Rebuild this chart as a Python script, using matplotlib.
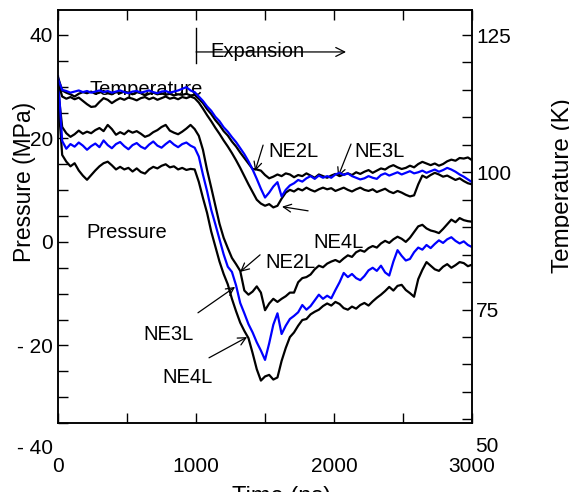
import numpy as np
import matplotlib
matplotlib.use('Agg')
import matplotlib.pyplot as plt
from matplotlib.ticker import MultipleLocator

plt.rcParams['font.family'] = ['Liberation Sans', 'DejaVu Sans']

# time axis, one sample every 30 ns
time_ns = np.arange(0, 3001, 30)

# temperature (K), right axis
temp_ne2l = [117.3, 114.9, 114.5, 114.2, 113.8, 114.3, 114.6, 114.4, 114.7, 114.3,
             114.5, 114.8, 114.4, 114.2, 114.6, 114.4, 114.7, 114.5, 114.2, 114.6,
             114.4, 114.0, 114.3, 114.5, 114.2, 114.4, 114.1, 114.3, 114.0, 114.2,
             114.1, 114.3, 114.0, 114.1, 113.4, 112.6, 111.5, 110.6, 109.5, 108.6,
             107.5, 106.7, 105.6, 104.7, 103.6, 102.6, 101.6, 100.6, 100.5, 100.3,
             99.5, 98.9, 99.2, 99.6, 99.3, 99.8, 99.6, 99.1, 99.5, 99.3,
             99.8, 99.4, 99.0, 99.6, 99.3, 99.0, 99.4, 99.7, 99.3, 99.6,
             99.8, 99.5, 100.0, 99.7, 100.1, 100.4, 99.9, 100.3, 100.7, 100.5,
             101.0, 101.3, 100.9, 100.6, 100.8, 101.2, 100.9, 101.5, 101.9, 101.6,
             101.3, 101.6, 101.2, 101.5, 102.0, 102.3, 102.1, 102.6, 102.5, 102.7,
             102.2]
temp_ne3l = [117.0, 115.0, 114.8, 114.5, 114.7, 114.9, 114.6, 114.8, 114.5, 114.7,
             114.9, 114.6, 114.8, 114.5, 114.7, 114.9, 114.6, 114.4, 114.7, 114.8,
             114.5, 114.7, 114.9, 114.6, 114.4, 114.7, 114.8, 114.5, 114.7, 114.9,
             115.2, 115.5, 114.9, 114.6, 113.8, 113.0, 112.0, 111.2, 110.1, 109.3,
             108.2, 107.4, 106.4, 105.5, 104.4, 103.3, 102.0, 100.5, 98.8, 97.0,
             95.4, 96.3, 97.4, 98.2, 95.6, 96.8, 97.6, 98.0, 98.6, 98.3,
             98.9, 99.3, 98.8, 99.4, 99.0, 99.3, 99.0, 99.6, 99.9, 99.5,
             99.8, 99.3, 99.0, 98.7, 98.9, 99.3, 99.0, 98.8, 99.5, 99.8,
             99.4, 99.7, 100.0, 99.6, 99.9, 100.2, 99.8, 100.0, 100.3, 99.9,
             100.2, 100.5, 100.1, 100.4, 100.8, 100.5, 100.1, 99.6, 99.2, 98.7,
             98.2]
temp_ne4l = [116.5, 113.8, 113.4, 113.7, 113.3, 113.6, 113.0, 112.4, 111.9, 112.0,
             112.8, 113.5, 113.2, 112.6, 113.1, 113.5, 113.2, 113.6, 113.4, 113.1,
             113.5, 113.7, 113.3, 113.6, 113.2, 113.5, 113.8, 113.4, 113.6, 113.3,
             113.7, 113.5, 113.8, 113.5, 112.7, 111.6, 110.4, 109.3, 108.1, 107.0,
             105.8, 104.7, 103.5, 102.2, 100.8, 99.3, 97.8, 96.4, 95.0, 94.3,
             93.9, 94.2, 93.6, 93.9, 95.2, 96.3, 96.8, 96.5, 97.0, 96.7,
             97.2, 96.8, 96.5, 96.9, 97.2, 96.9, 97.1, 96.6, 96.9, 97.2,
             96.8, 96.5, 96.9, 97.2, 96.8, 96.6, 96.9, 96.4, 96.7, 97.0,
             96.5, 96.2, 96.6, 96.3, 95.9, 95.6, 95.8, 97.8, 99.4, 99.0,
             99.5, 99.9, 99.6, 99.2, 99.4, 99.0, 98.6, 98.9, 98.4, 98.0,
             97.8]

# pressure (MPa), left axis
pres_ne2l = [29.5, 22.2, 21.0, 20.3, 20.8, 21.5, 20.9, 21.3, 21.0, 21.6,
             22.0, 21.4, 22.6, 21.8, 20.7, 21.2, 20.8, 21.5, 21.1, 21.4,
             20.9, 20.3, 20.6, 21.2, 21.6, 22.2, 22.6, 21.5, 21.1, 20.8,
             21.3, 21.9, 22.6, 21.8, 20.5, 17.8, 13.9, 10.5, 7.0, 3.5,
             0.8, -1.2, -3.1, -4.3, -5.6, -9.4, -10.2, -9.6, -8.6, -9.8,
             -13.2, -11.9, -11.0, -11.6, -11.0, -10.5, -9.8, -9.8, -7.8, -7.0,
             -6.8, -6.3, -5.3, -4.6, -4.9, -4.2, -3.8, -3.5, -3.9, -3.2,
             -2.6, -2.9, -2.0, -1.6, -1.9, -1.2, -0.8, -1.1, -0.3, 0.2,
             -0.2, 0.5, 1.0, 0.6, 0.0, 0.8, 1.9, 3.0, 3.3, 2.6,
             2.2, 2.0, 1.7, 2.5, 3.4, 4.3, 3.8, 4.6, 4.2, 4.0,
             3.9]
pres_ne3l = [32.0, 19.5, 18.0, 18.9, 18.4, 19.2, 18.6, 17.8, 18.5, 19.0,
             18.3, 19.6, 18.7, 18.1, 18.9, 19.3, 18.5, 17.9, 18.7, 19.1,
             18.4, 18.0, 18.8, 19.4, 18.6, 18.2, 18.9, 19.5, 18.8, 18.3,
             18.9, 19.2, 18.6, 18.2, 16.5, 13.0, 9.8, 6.2, 3.4, 0.5,
             -2.4, -4.8, -5.8, -8.4, -11.8, -13.8, -15.9, -17.5, -19.4, -21.0,
             -22.8, -19.6, -16.0, -13.8, -17.8, -16.2, -14.9, -14.3, -13.6, -12.2,
             -13.1, -12.4, -11.3, -10.2, -11.0, -10.4, -10.9, -9.3, -7.8, -6.0,
             -6.8, -6.2, -7.0, -7.4, -6.6, -5.5, -5.0, -5.6, -4.6, -5.9,
             -6.5, -3.8, -1.6, -2.7, -3.6, -3.3, -2.0, -1.1, -1.5, -0.6,
             -1.2, -0.4, 0.3, -0.2, 0.5, 0.9, 0.2, -0.3, 0.1, -0.6,
             -1.0]
pres_ne4l = [28.0, 16.8, 15.5, 14.6, 15.2, 13.8, 12.8, 12.0, 12.9, 13.8,
             14.6, 15.2, 15.5, 14.8, 14.0, 14.5, 14.0, 14.3, 13.6, 14.2,
             13.5, 13.2, 14.0, 14.5, 14.2, 14.7, 15.0, 14.4, 14.6, 14.0,
             14.3, 13.9, 14.1, 14.0, 11.6, 8.5, 5.6, 2.0, -0.9, -3.8,
             -6.2, -8.2, -11.0, -13.4, -15.6, -17.2, -18.6, -21.5, -24.6, -26.8,
             -26.0, -25.7, -26.6, -26.2, -23.0, -20.5, -18.4, -17.5, -16.2, -15.1,
             -14.9, -14.0, -13.5, -13.1, -12.4, -11.9, -12.3, -11.6, -12.0, -12.8,
             -13.1, -12.5, -12.9, -12.2, -11.8, -12.3, -11.5, -10.8, -10.2, -9.5,
             -8.7, -9.4, -8.5, -8.3, -9.3, -9.9, -10.6, -7.2, -5.4, -3.9,
             -4.6, -5.3, -5.6, -4.8, -4.3, -5.0, -4.5, -3.9, -4.1, -4.7,
             -4.4]

p_ticks = [-20, 0, 20, 40]
p_labels = ['- 20', '0', '20', '40']
t_ticks = [75, 100, 125]
x_ticks = [0, 1000, 2000, 3000]

fig = plt.figure(figsize=(5.69, 4.92), dpi=100)
ax = fig.add_axes([0.102, 0.1402, 0.7276, 0.8394])
ax2 = ax.twinx()

lw = 1.6
ax.plot(time_ns, pres_ne2l, color='black', lw=lw)
ax.plot(time_ns, pres_ne4l, color='black', lw=lw)
ax.plot(time_ns, pres_ne3l, color='#0000ff', lw=lw)
ax2.plot(time_ns, temp_ne2l, color='black', lw=lw)
ax2.plot(time_ns, temp_ne4l, color='black', lw=lw)
ax2.plot(time_ns, temp_ne3l, color='#0000ff', lw=lw)

ax.set_xlim(0, 3000)
ax.set_ylim(-35, 44.8)
ax2.set_ylim(54.33, 129.55)

tick_fs = 15
ax.set_xticks(x_ticks)
ax.set_xticklabels([str(v) for v in x_ticks])
ax.xaxis.set_minor_locator(MultipleLocator(500))
ax.set_yticks(p_ticks)
ax.set_yticklabels(p_labels)
ax.yaxis.set_minor_locator(MultipleLocator(5))
ax2.set_yticks(t_ticks)
ax2.set_yticklabels([str(v) for v in t_ticks])
ax2.yaxis.set_minor_locator(MultipleLocator(5))

ax.tick_params(axis='both', which='both', direction='in', length=7.2, width=1.0,
               labelsize=tick_fs, top=True, right=False)
ax.tick_params(axis='x', which='major', pad=24.5)
ax.tick_params(axis='y', which='major', pad=3.6)
ax2.tick_params(axis='y', which='both', direction='in', length=7.2, width=1.0,
                labelsize=tick_fs, pad=3.0)
for a in (ax, ax2):
    for s in a.spines.values():
        s.set_linewidth(1.1)

# labels below the axis range, as in the original
ax.text(-0.012, -40, '- 40', transform=ax.get_yaxis_transform(), ha='right',
        va='center', fontsize=tick_fs, clip_on=False)
ax2.text(1.008, 50, '50', transform=ax2.get_yaxis_transform(), ha='left',
         va='center', fontsize=tick_fs, clip_on=False)

ax.set_xlabel('Time (ns)', fontsize=17)
ax.xaxis.set_label_coords(0.539, -0.1525)
ax.set_ylabel('Pressure (MPa)', fontsize=16.5)
ax.yaxis.set_label_coords(-0.053, 0.5835)
ax2.set_ylabel('Temperature (K)', fontsize=17.5, rotation=90, va='top')
ax2.yaxis.set_label_coords(1.193, 0.576)

fs = 14.5
ax.text(638, 28.4, 'Temperature', fontsize=fs, ha='center', va='baseline')
ax.text(500, 0.77, 'Pressure', fontsize=fs, ha='center', va='baseline')
ax.text(1446, 35.75, 'Expansion', fontsize=fs, ha='center', va='baseline')
ax.plot([1000, 1000], [34.6, 41.35], color='black', lw=1.0)
ax.annotate('', xy=(2087, 36.7), xytext=(1000, 36.7),
            arrowprops=dict(arrowstyle='->', lw=0.9, color='black',
                            shrinkA=0, shrinkB=0, mutation_scale=16))

arr = dict(arrowstyle='->', lw=0.9, color='black', shrinkA=0, shrinkB=0,
           mutation_scale=14)
ax.text(1703, 16.4, 'NE2L', fontsize=fs, ha='center', va='baseline')
ax.annotate('', xy=(1428, 13.7), xytext=(1486, 18.7), arrowprops=arr)
ax.text(2333, 16.4, 'NE3L', fontsize=fs, ha='center', va='baseline')
ax.annotate('', xy=(2029, 12.6), xytext=(2123, 18.9), arrowprops=arr)
ax.annotate('', xy=(1623, 6.8), xytext=(1812, 6.0), arrowprops=arr)

ax.text(2029, -1.2, 'NE4L', fontsize=fs, ha='center', va='baseline')
ax.text(1681, -5.0, 'NE2L', fontsize=fs, ha='center', va='baseline')
ax.annotate('', xy=(1319, -5.8), xytext=(1464, -2.5), arrowprops=arr)
ax.text(801, -18.9, 'NE3L', fontsize=fs, ha='center', va='baseline')
ax.annotate('', xy=(1283, -8.7), xytext=(1014, -13.7), arrowprops=arr)
ax.text(935, -27.2, 'NE4L', fontsize=fs, ha='center', va='baseline')
ax.annotate('', xy=(1370, -18.4), xytext=(1094, -22.4), arrowprops=arr)

fig.savefig('out.png', dpi=100)
